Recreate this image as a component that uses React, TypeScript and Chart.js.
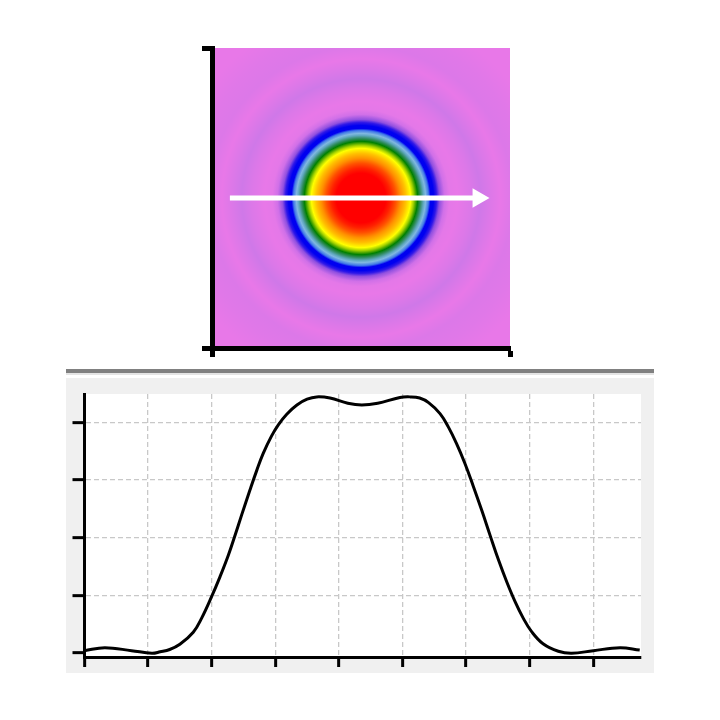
import React, { useEffect, useRef } from "react";
import { Chart, registerables } from "chart.js";

Chart.register(...registerables);

// Radial colour stops of the intensity map (image units from the beam centre)
const ringRadii = [0, 25, 30, 35, 40, 45, 50, 53, 55, 57, 60, 63, 65, 68, 70, 73, 76, 79, 84, 89, 97, 110, 120, 130, 140, 153, 170, 190, 215];
const ringColors = [
  "#ff0000", "#ff0000", "#ff2000", "#ff5000", "#ff9000", "#ffc000", "#ffff00", "#a0d000", "#50a800", "#008000",
  "#308c60", "#60a8c0", "#80b8e0", "#4078e8", "#0000f0", "#0000f0", "#3018e8", "#9050e0", "#d070e8", "#e478e8",
  "#e878e8", "#dc78e8", "#cf78e8", "#dc78e8", "#e878e8", "#dc78e8", "#e078e8", "#e878e8", "#e878e8",
];
const mapExtentX = [0, 300];
const mapExtentY = [300, 300];
const beamCentre = [150, 150];
const arrowX = [18, 268];
const arrowY = [150, 150];

// Line profile along the arrow
const profileX = [0, 0.32, 0.74, 1.06, 1.19, 1.34, 1.5, 1.71, 1.84, 2.0, 2.13, 2.26, 2.37, 2.47, 2.6, 2.71, 2.81, 2.94, 3.05, 3.18, 3.34, 3.5, 3.65, 3.86, 4.14, 4.36, 4.61, 4.96, 5.12, 5.27, 5.41, 5.59, 5.72, 5.85, 5.98, 6.11, 6.25, 6.38, 6.51, 6.64, 6.77, 6.9, 7.03, 7.21, 7.45, 7.66, 8.0, 8.42, 8.73];
const profileY = [0.04, 0.09, 0.04, -0.005, 0.02, 0.06, 0.15, 0.36, 0.6, 0.98, 1.32, 1.69, 2.05, 2.39, 2.82, 3.17, 3.46, 3.76, 3.96, 4.14, 4.3, 4.4, 4.44, 4.42, 4.33, 4.3, 4.33, 4.43, 4.44, 4.42, 4.34, 4.15, 3.92, 3.63, 3.29, 2.9, 2.46, 2.03, 1.61, 1.23, 0.89, 0.6, 0.37, 0.16, 0.03, -0.005, 0.04, 0.09, 0.05];

const noLabels = { display: false };

const plotBackground = {
  id: "plotBackground",
  beforeDraw(chart: any) {
    const { ctx, chartArea: a } = chart;
    ctx.save();
    ctx.fillStyle = "#ffffff";
    ctx.fillRect(a.left, a.top, a.width, a.height);
    ctx.restore();
  },
};

function mapGradient(c: any) {
  const chart = c.chart;
  if (!chart.chartArea) return "#e878e8";
  const sx = chart.scales.x;
  const sy = chart.scales.y;
  const cx = sx.getPixelForValue(beamCentre[0]);
  const cy = sy.getPixelForValue(beamCentre[1]);
  const maxR = ringRadii[ringRadii.length - 1];
  const outer = sx.getPixelForValue(beamCentre[0] + maxR) - cx;
  const g = chart.ctx.createRadialGradient(cx, cy, 0, cx, cy, outer);
  ringRadii.forEach((r, i) => g.addColorStop(r / maxR, ringColors[i]));
  return g;
}

const gridColor = (c: any) => (c.tick && c.tick.value === 0 ? "rgba(0,0,0,0)" : "#c8c8c8");

export default function App() {
  const mapRef = useRef<HTMLCanvasElement>(null);
  const profileRef = useRef<HTMLCanvasElement>(null);

  useEffect(() => {
    const mapChart = new Chart(mapRef.current!, {
      type: "line",
      data: {
        datasets: [
          {
            label: "arrow",
            data: arrowX.map((x, i) => ({ x, y: arrowY[i] })),
            borderColor: "#ffffff",
            backgroundColor: "#ffffff",
            borderWidth: 5,
            fill: false,
            pointStyle: "triangle",
            pointRotation: 90,
            pointRadius: [0, 11.3],
            pointBorderWidth: 0,
            order: 0,
          },
          {
            label: "map",
            data: mapExtentX.map((x, i) => ({ x, y: mapExtentY[i] })),
            borderWidth: 0,
            pointRadius: 0,
            fill: "origin",
            backgroundColor: mapGradient,
            order: 1,
          },
        ],
      } as any,
      options: {
        animation: false,
        responsive: false,
        events: [],
        layout: { padding: { left: 202, top: 48, right: 210, bottom: 363 } },
        plugins: { legend: { display: false }, tooltip: { enabled: false }, title: { display: false } },
        scales: {
          x: {
            type: "linear",
            min: 0,
            max: 300,
            ticks: { ...noLabels, stepSize: 300 },
            grid: { drawOnChartArea: false, tickLength: 9, tickWidth: 5, tickColor: "#000000", z: 1 },
            border: { display: true, color: "#000000", width: 5, z: 1 },
          },
          y: {
            type: "linear",
            min: 0,
            max: 300,
            ticks: { ...noLabels, stepSize: 300 },
            grid: { drawOnChartArea: false, tickLength: 10, tickWidth: 5, tickColor: "#000000", z: 1 },
            border: { display: true, color: "#000000", width: 5, z: 1 },
          },
        },
      } as any,
    });

    const profileChart = new Chart(profileRef.current!, {
      type: "line",
      data: {
        datasets: [
          {
            label: "profile",
            data: profileX.map((x, i) => ({ x, y: profileY[i] })),
            borderColor: "#000000",
            borderWidth: 3,
            pointRadius: 0,
            fill: false,
            tension: 0.4,
            clip: false,
          },
        ],
      } as any,
      options: {
        animation: false,
        responsive: false,
        events: [],
        layout: { padding: { left: 72.5, top: 394, right: 79, bottom: 53 } },
        plugins: { legend: { display: false }, tooltip: { enabled: false }, title: { display: false } },
        scales: {
          x: {
            type: "linear",
            min: 0,
            max: 8.75,
            ticks: { ...noLabels, stepSize: 1, includeBounds: false },
            grid: { color: gridColor, lineWidth: 1.3, tickLength: 10, tickWidth: 3, tickColor: "#000000" },
            border: { display: true, color: "#000000", width: 3, dash: [5, 3], z: 1 },
          },
          y: {
            type: "linear",
            min: -0.07,
            max: 4.49,
            ticks: { ...noLabels, stepSize: 1, includeBounds: false },
            grid: { color: gridColor, lineWidth: 1.3, tickLength: 12, tickWidth: 3, tickColor: "#000000" },
            border: { display: true, color: "#000000", width: 3, dash: [5, 3], z: 1 },
          },
        },
      } as any,
      plugins: [plotBackground],
    });

    return () => {
      mapChart.destroy();
      profileChart.destroy();
    };
  }, []);

  const layer: React.CSSProperties = { position: "absolute", left: 0, top: 0, width: 720, height: 720 };

  return (
    <div style={{ position: "absolute", left: 0, top: 0, width: 720, height: 720, background: "#ffffff", overflow: "hidden" }}>
      <div style={{ position: "absolute", left: 66, top: 369, width: 588, height: 4, background: "#808080" }} />
      <div style={{ position: "absolute", left: 66, top: 373, width: 588, height: 2, background: "#e4e4e4" }} />
      <div style={{ position: "absolute", left: 66, top: 378, width: 588, height: 295, background: "#f0f0f0" }} />
      <canvas ref={profileRef} width={720} height={720} style={layer} />
      <canvas ref={mapRef} width={720} height={720} style={layer} />
    </div>
  );
}
